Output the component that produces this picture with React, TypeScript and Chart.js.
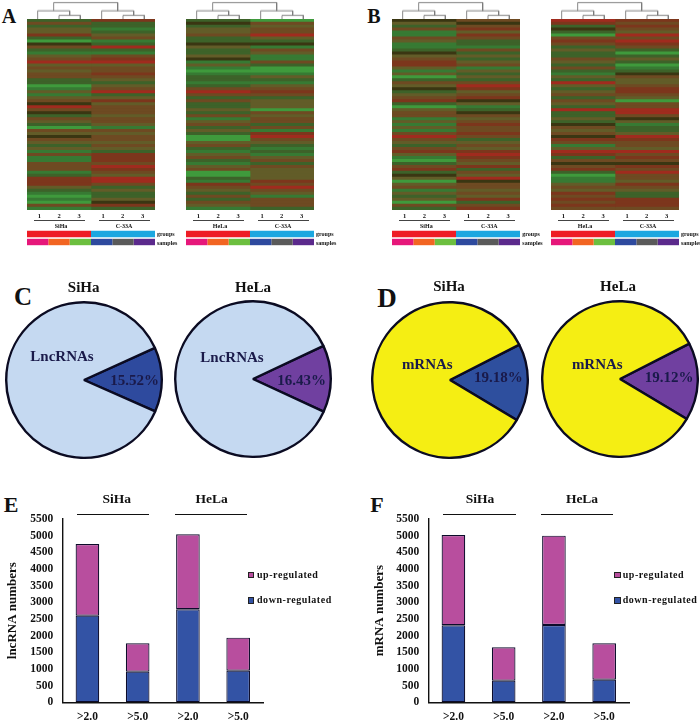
import React, { useEffect, useRef } from "react";
import { Chart, registerables } from "chart.js";

Chart.register(...registerables);

const SERIF = "'Liberation Serif', serif";

// ---------- heat-map rows (top to bottom), level per row, read by eye
const rowsA1Left = [-1,1,-1,0,0,2,-1,-3,4,1,-1,-2,0,1,3,0,1,0,1,1,-1,-1,-3,-2,0,-2,0,1,4,3,1,4,-1,1,0,-1,-3,1,0,4,1,0,-1,0,-2,1,-2,-2,1,1,1,-2,-1,2,2,2,0,-1,-2,-3,-2,-3,1,-2];
const rowsA1Right = [2,-1,-1,-2,-1,0,1,-2,-1,3,-1,-2,1,2,3,0,1,1,2,1,0,-1,0,1,3,-1,0,2,0,1,1,1,0,1,1,0,-2,1,0,1,1,0,1,0,-1,2,2,2,1,3,2,1,0,3,3,1,-1,0,-1,-1,0,4,2,-1];
const rowsA2Left = [-1,4,-1,0,0,1,-1,-1,4,0,-1,-1,0,4,-2,0,-2,-3,-2,-1,-1,-2,-1,1,3,1,-1,1,-1,-1,0,-1,1,-2,0,1,-1,0,-1,-3,-3,0,1,-1,-2,0,1,-1,-2,0,1,-3,-3,-1,-2,2,1,0,-1,1,-1,1,0,-2];
const rowsA2Right = [-3,1,0,1,1,3,0,-1,4,-2,1,0,-2,-2,1,-1,-3,-3,-2,0,-1,-2,0,1,2,1,-1,0,0,0,-3,1,0,1,1,-1,1,-2,2,3,1,0,-1,-2,-1,-2,0,1,-1,1,0,0,0,0,2,1,3,1,0,-2,1,1,1,-1];
const rowsB1Left = [4,0,-1,1,-2,-2,1,0,-2,-2,-1,4,0,1,2,2,0,-2,0,-3,-1,1,0,4,-1,0,1,2,-1,-3,0,1,1,-2,0,-2,0,-2,1,3,1,0,-1,1,2,0,-2,-3,-1,1,2,-1,4,0,-3,0,1,-2,0,-1,0,-3,1,-1];
const rowsB1Right = [1,4,1,2,0,2,1,-1,-1,-2,1,-1,0,-1,0,1,-2,0,-1,0,-1,1,3,2,0,1,2,4,0,-2,-1,4,1,0,1,2,1,1,2,1,-1,0,1,0,2,3,2,1,0,2,-1,1,0,3,4,1,1,0,1,0,2,-1,1,2];
const rowsB2Left = [3,2,-1,4,-1,-3,1,2,1,-1,0,-1,-1,1,0,-1,1,-1,-2,0,-1,3,0,-1,0,1,-1,1,0,-1,3,-1,-1,0,-1,4,1,0,1,4,2,1,-2,0,3,2,-1,1,4,1,2,-1,-3,-2,-2,0,1,0,2,1,2,1,2,1];
const rowsB2Right = [2,1,2,1,0,3,1,3,2,1,-1,-3,-1,0,-1,-3,-2,-1,4,1,0,0,1,2,2,1,0,-3,1,1,3,3,1,4,0,-2,-1,-1,0,3,2,1,1,0,3,1,2,1,4,2,1,3,1,1,0,2,1,0,-1,-1,2,2,2,1];

const levelColors: Record<number, string> = {
  [-3]: "#3f9a3c",
  [-2]: "#377a33",
  [-1]: "#3d6229",
  0: "#625c28",
  1: "#6e4a22",
  2: "#7c361c",
  3: "#a02b1e",
  4: "#3a3612",
};

// ---------- dendrogram merges: [xLeft, baseLeft, xRight, baseRight, top]
const dendroMerges = [
  [1.5, 0, 2.5, 0, 4.5],
  [0.5, 0, 2, 4.5, 9],
  [4.5, 0, 5.5, 0, 4.5],
  [3.5, 0, 5, 4.5, 9],
  [1.25, 9, 4.25, 9, 17],
];

// ---------- annotation bars
const annotationRows = ["groups", "samples"];
const groupColors = ["#ee1c25", "#ee1c25", "#ee1c25", "#1ca7e0", "#1ca7e0", "#1ca7e0"];
const groupSpans = [3, 0, 0, 3, 0, 0];
const sampleColors = ["#e6177a", "#f26522", "#6cbf3f", "#2e4a9e", "#5a5a5a", "#5b2a8c"];
const sampleSpans = [1, 1, 1, 1, 1, 1];
const replicateLabels = ["1", "2", "3"];

const pieLabelsC = ["15.52%", "16.43%"];
const pieLabelsD = ["19.18%", "19.12%"];
const wedgeC = [13.4, 13.9];
const wedgeD = [16.1, 16.1];
const wedgeStart = [65.6, 64.8, 63, 62.9];

// ---------- stacked bars
const foldLabels = [">2.0", ">5.0", ">2.0", ">5.0"];
const lncDown = [2600, 920, 2790, 950];
const lncUp = [2150, 850, 2250, 990];
const mrnaDown = [2310, 650, 2320, 680];
const mrnaUp = [2710, 1000, 2680, 1090];

function ChartBox({ config, left, top, width, height, bg, filter }: any) {
  const ref = useRef<HTMLCanvasElement | null>(null);
  useEffect(() => {
    const chart = new Chart(ref.current as HTMLCanvasElement, config());
    return () => chart.destroy();
  }, []);
  return (
    <canvas
      ref={ref}
      width={width}
      height={height}
      style={{ position: "absolute", left, top, width, height, background: bg, display: "block", filter }}
    />
  );
}

function Txt({ x, y, size, children, color = "#111", anchor = "center", spacing = 0 }: any) {
  const tx = anchor === "center" ? "-50%" : "0";
  return (
    <span
      style={{
        position: "absolute",
        left: x,
        top: y,
        transform: `translate(${tx}, -50%)`,
        font: `bold ${size}px ${SERIF}`,
        color,
        whiteSpace: "nowrap",
        letterSpacing: spacing,
        lineHeight: 1,
      }}
    >
      {children}
    </span>
  );
}

function Rule({ x1, x2, y, h, color }: any) {
  return <div style={{ position: "absolute", left: x1, top: y - h / 2, width: x2 - x1, height: h, background: color }} />;
}

const baseOptions = {
  responsive: false,
  animation: false as const,
  plugins: { legend: { display: false }, tooltip: { enabled: false } },
};

function heatConfig(left: number[], right: number[]) {
  return () => ({
    type: "bar" as const,
    data: {
      labels: left.map((_, i) => String(i + 1)),
      datasets: [left, right].map((rows) => ({
        data: rows.map(() => 1),
        backgroundColor: rows.map((l) => levelColors[l]),
        borderWidth: 0,
        categoryPercentage: 1,
        barPercentage: 1,
      })),
    },
    options: {
      ...baseOptions,
      indexAxis: "y" as const,
      layout: { padding: 0 },
      scales: {
        x: { display: false, stacked: true, min: 0, max: 2 },
        y: { display: false, stacked: true },
      },
    },
  });
}

function dendroConfig() {
  return () => ({
    type: "scatter" as const,
    data: {
      datasets: dendroMerges.map(([xl, bl, xr, br, t]) => ({
        data: [
          { x: xl, y: bl },
          { x: xl, y: t },
          { x: xr, y: t },
          { x: xr, y: br },
        ],
        showLine: true,
        pointRadius: 0,
        borderColor: "#7a7a7a",
        borderWidth: 0.9,
      })),
    },
    options: {
      ...baseOptions,
      layout: { padding: 0 },
      scales: {
        x: { display: false, min: 0, max: 6 },
        y: { display: false, min: 0, max: 19.5 },
      },
    },
  });
}

function annotationConfig() {
  return () => ({
    type: "bar" as const,
    data: {
      labels: annotationRows,
      datasets: groupColors.map((g, i) => ({
        data: [groupSpans[i], sampleSpans[i]],
        backgroundColor: [g, sampleColors[i]],
        borderWidth: 0,
        categoryPercentage: 1,
        barPercentage: 0.8,
      })),
    },
    options: {
      ...baseOptions,
      indexAxis: "y" as const,
      layout: { padding: 0 },
      scales: {
        x: { display: false, stacked: true, min: 0, max: 6 },
        y: { display: false, stacked: true },
      },
    },
  });
}

function pieConfig(share: number, color: string, rotation: number, main: string) {
  return () => ({
    type: "pie" as const,
    data: {
      labels: ["regulated", "other"],
      datasets: [
        {
          data: [share, 100 - share],
          backgroundColor: [color, main],
          borderColor: "#0b0b22",
          borderWidth: 2.4,
        },
      ],
    },
    options: { ...baseOptions, rotation, layout: { padding: 0 } },
  });
}

function barConfig(down: number[], up: number[], title: string, axisX: number, endX: number, cw: number, top: number, titleGap: number) {
  return () => ({
    type: "bar" as const,
    data: {
      labels: foldLabels,
      datasets: [
        { label: "down-regulated", data: down, backgroundColor: "#3353a5" },
        { label: "up-regulated", data: up, backgroundColor: "#b84e9e" },
      ].map((d) => ({
        ...d,
        borderColor: "#0c0c2a",
        borderWidth: 1.2,
        borderSkipped: false,
        categoryPercentage: 0.47,
        barPercentage: 1,
      })),
    },
    options: {
      ...baseOptions,
      layout: { padding: { top, right: cw - endX, left: 0, bottom: 0 } },
      scales: {
        x: {
          stacked: true,
          grid: { display: false, drawTicks: false },
          border: { color: "#111", width: 1.4 },
          afterFit: (s: any) => {
            s.height = 25.7;
          },
          ticks: { padding: 8, color: "#111", font: { family: SERIF, size: 11.5, weight: "bold" as const } },
        },
        y: {
          stacked: true,
          min: 0,
          max: 5500,
          grid: { display: false, tickLength: 3, tickColor: "#111", drawOnChartArea: false },
          border: { color: "#111", width: 1.4 },
          afterFit: (s: any) => {
            s.width = axisX;
          },
          title: {
            display: true,
            text: title,
            color: "#111",
            padding: { top: titleGap, bottom: 0 },
            font: { family: SERIF, size: 13, weight: "bold" as const },
          },
          ticks: {
            stepSize: 500,
            padding: 6,
            autoSkip: false,
            color: "#111",
            callback: (v: any) => String(v),
            font: { family: SERIF, size: 11.5, weight: "bold" as const },
          },
        },
      },
    },
  });
}

function Heat({ x, w, left, right, name }: any) {
  const digits = [12.3, 32, 52, 76, 95.7, 115.7];
  return (
    <>
      <ChartBox config={dendroConfig()} left={x} top={0} width={w} height={19.5} />
      <ChartBox config={heatConfig(left, right)} left={x} top={19} width={w} height={191} bg="#5f5a28" filter="blur(0.45px)" />
      {digits.map((d, i) => (
        <Txt key={i} x={x + d} y={216} size={6.5}>
          {replicateLabels[i % 3]}
        </Txt>
      ))}
      <Rule x1={x + 7} x2={x + 58} y={220.5} h={0.9} color="#444" />
      <Rule x1={x + 71.5} x2={x + 122.5} y={220.5} h={0.9} color="#444" />
      <Txt x={x + 34} y={226} size={6}>{name}</Txt>
      <Txt x={x + 97} y={226} size={6}>C-33A</Txt>
      <ChartBox config={annotationConfig()} left={x} top={230} width={w} height={16} />
      <Txt x={x + w + 2} y={234.3} size={6} anchor="left">{annotationRows[0]}</Txt>
      <Txt x={x + w + 2} y={242.5} size={6} anchor="left">{annotationRows[1]}</Txt>
    </>
  );
}

function Bars({ ox, axisX, endX, down, up, title, silaX, helaX, lines, legendX, legendTextX, titleGap }: any) {
  return (
    <>
      <ChartBox config={barConfig(down, up, title, axisX, endX, 350, 14, titleGap)} left={ox} top={505} width={350} height={223} />
      <Txt x={ox + silaX} y={498.5} size={13.5}>SiHa</Txt>
      <Txt x={ox + helaX} y={498.5} size={13.5}>HeLa</Txt>
      <Rule x1={ox + lines[0]} x2={ox + lines[1]} y={514.7} h={1.6} color="#111" />
      <Rule x1={ox + lines[2]} x2={ox + lines[3]} y={514.7} h={1.6} color="#111" />
      <div style={{ position: "absolute", left: ox + legendX, top: 571.7, width: 6.5, height: 6.5, background: "#b84e9e", border: "0.5px solid #222", boxSizing: "border-box" }} />
      <div style={{ position: "absolute", left: ox + legendX, top: 597, width: 6.5, height: 6.5, background: "#3353a5", border: "0.5px solid #222", boxSizing: "border-box" }} />
      <Txt x={ox + legendTextX} y={575} size={10} anchor="left" spacing={0.55}>up-regulated</Txt>
      <Txt x={ox + legendTextX} y={600.3} size={10} anchor="left" spacing={0.55}>down-regulated</Txt>
    </>
  );
}

export default function App() {
  const navy = "#1a1a4a";
  return (
    <div style={{ position: "absolute", left: 0, top: 0, width: 700, height: 728, overflow: "hidden", background: "#fff" }}>
      <Heat x={27} w={128} left={rowsA1Left} right={rowsA1Right} name="SiHa" />
      <Heat x={186} w={128} left={rowsA2Left} right={rowsA2Right} name="HeLa" />
      <Heat x={392.3} w={128} left={rowsB1Left} right={rowsB1Right} name="SiHa" />
      <Heat x={551} w={128} left={rowsB2Left} right={rowsB2Right} name="HeLa" />

      <Txt x={9} y={16} size={20}>A</Txt>
      <Txt x={374} y={15.5} size={20}>B</Txt>
      <Txt x={23} y={295.5} size={25}>C</Txt>
      <Txt x={387} y={298} size={27}>D</Txt>
      <Txt x={11} y={504.5} size={22}>E</Txt>
      <Txt x={377} y={504.5} size={22}>F</Txt>

      <ChartBox config={pieConfig(wedgeC[0], "#2e4a9e", wedgeStart[0], "#c5d9f1")} left={4.5} top={300.5} width={158} height={158} />
      <ChartBox config={pieConfig(wedgeC[1], "#7040a0", wedgeStart[1], "#c5d9f1")} left={173.5} top={300} width={158} height={158} />
      <ChartBox config={pieConfig(wedgeD[0], "#2e4f9e", wedgeStart[2], "#f5ee13")} left={370.5} top={300.5} width={158} height={158} />
      <ChartBox config={pieConfig(wedgeD[1], "#7040a0", wedgeStart[3], "#f5ee13")} left={540.5} top={299.5} width={158} height={158} />

      <Txt x={83.7} y={286.7} size={15}>SiHa</Txt>
      <Txt x={253} y={286.7} size={15}>HeLa</Txt>
      <Txt x={449} y={285.7} size={15}>SiHa</Txt>
      <Txt x={618} y={285.7} size={15}>HeLa</Txt>

      <Txt x={62} y={355.7} size={15} color={navy}>LncRNAs</Txt>
      <Txt x={232} y={356.7} size={15} color={navy}>LncRNAs</Txt>
      <Txt x={427.3} y={364} size={15} color={navy}>mRNAs</Txt>
      <Txt x={597.3} y={364} size={15} color={navy}>mRNAs</Txt>
      <Txt x={134.7} y={380.3} size={15} color={navy}>{pieLabelsC[0]}</Txt>
      <Txt x={301.7} y={380.3} size={15} color={navy}>{pieLabelsC[1]}</Txt>
      <Txt x={498.3} y={376.7} size={15} color={navy}>{pieLabelsD[0]}</Txt>
      <Txt x={669} y={376.7} size={15} color={navy}>{pieLabelsD[1]}</Txt>

      <Bars ox={0} axisX={62.3} endX={263.3} down={lncDown} up={lncUp} title="lncRNA numbers" silaX={116.7} helaX={211.7} lines={[76.7, 149.3, 175, 247.3]} legendX={247.7} legendTextX={257} titleGap={5} />
      <Bars ox={350} axisX={78.3} endX={279.3} down={mrnaDown} up={mrnaUp} title="mRNA numbers" silaX={130} helaX={232} lines={[92.7, 165.7, 190.7, 263.3]} legendX={264.3} legendTextX={272.7} titleGap={22} />
    </div>
  );
}
